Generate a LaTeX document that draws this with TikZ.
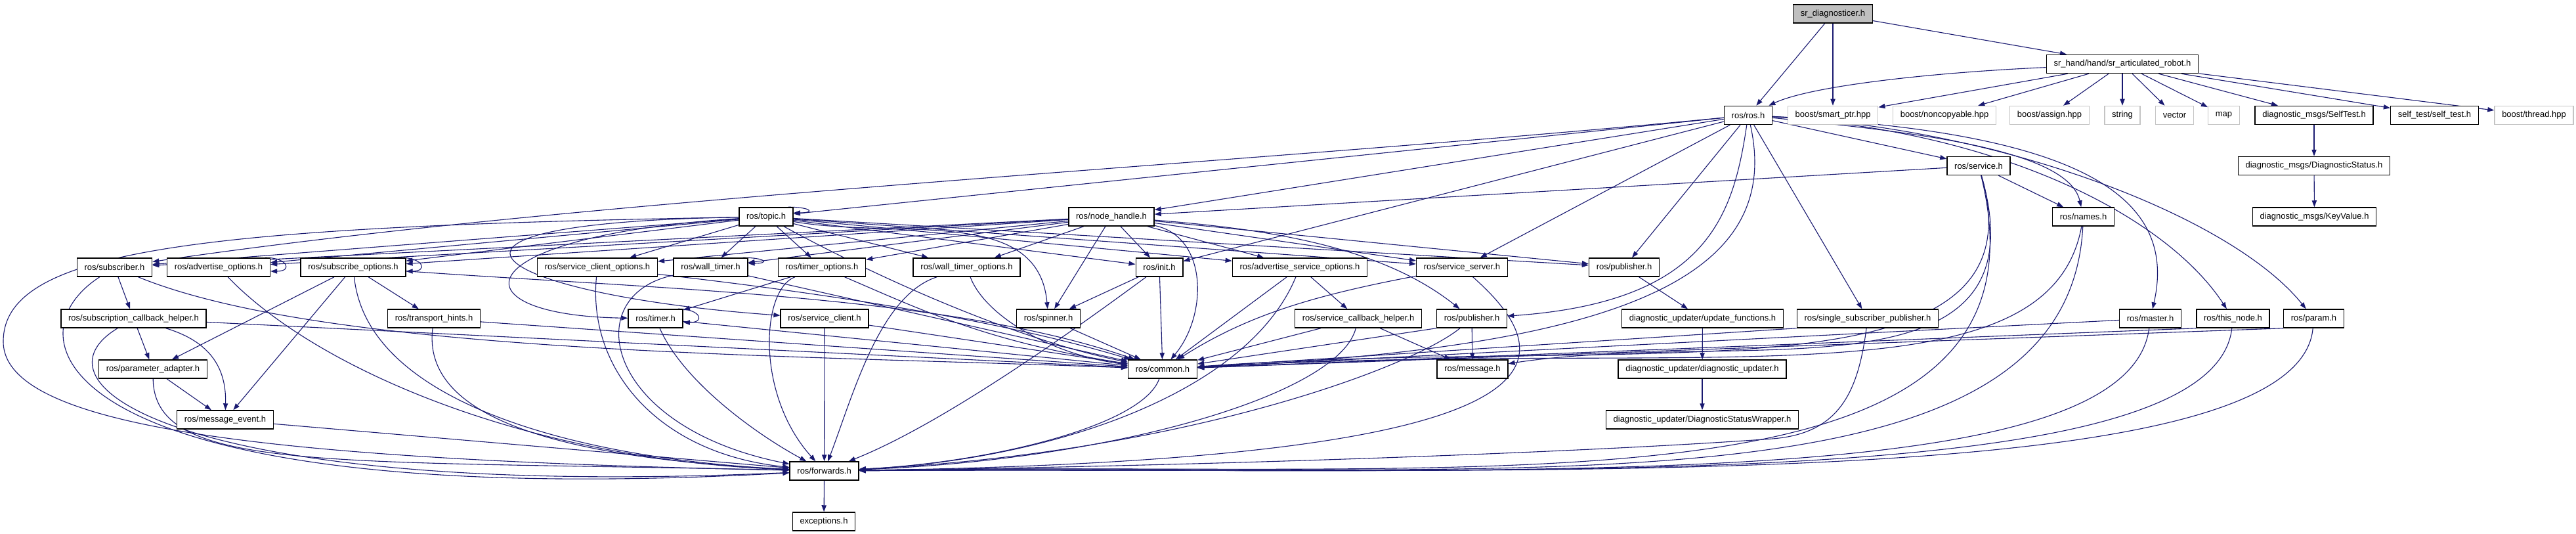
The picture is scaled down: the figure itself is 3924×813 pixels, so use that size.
\documentclass[tikz,border=0pt]{standalone}
\usepackage{fontspec}
\setmainfont{Liberation Sans}
\usetikzlibrary{arrows.meta,backgrounds}
\definecolor{EdgeClr}{HTML}{191970}
\definecolor{ExtClr}{HTML}{C4C4C4}
\definecolor{RootClr}{HTML}{BFBFBF}

\begin{document}
\begin{tikzpicture}[x=0.5pt,y=-0.5pt,
  hdr/.style={draw=black,fill=white,line width=0.75pt,minimum height=14pt,inner xsep=5.6pt,inner ysep=0pt,font=\fontsize{6.5}{7}\selectfont},
  exthdr/.style={hdr,draw=ExtClr},
  roothdr/.style={hdr,fill=RootClr},
  dep/.style={draw=EdgeClr,line width=0.55pt,-{Triangle[length=5pt,width=3.6pt]}}]
\useasboundingbox (0,0) rectangle (3924,813);

\node[roothdr] (diag) at (2792,21) {sr\_diagnosticer.h};
\node[hdr] (robot) at (3233,97.5) {sr\_hand/hand/sr\_articulated\_robot.h};

\node[hdr] (rosh) at (2663,175.5) {ros/ros.h};
\node[exthdr] (smartptr) at (2792,175.5) {boost/smart\_ptr.hpp};
\node[exthdr] (noncopy) at (2962,175.5) {boost/noncopyable.hpp};
\node[exthdr] (assign) at (3122,175.5) {boost/assign.hpp};
\node[exthdr] (string) at (3233,175.5) {string};
\node[exthdr] (vector) at (3312.5,175.5) {vector};
\node[exthdr] (map) at (3387.5,175.5) {map};
\node[hdr] (selftest) at (3525,175.5) {diagnostic\_msgs/SelfTest.h};
\node[hdr] (selftesth) at (3708.5,175.5) {self\_test/self\_test.h};
\node[exthdr] (thread) at (3860,175.5) {boost/thread.hpp};

\node[hdr] (service) at (3014,252.5) {ros/service.h};
\node[hdr] (dstatus) at (3525,252.5) {diagnostic\_msgs/DiagnosticStatus.h};

\node[hdr] (topic) at (1167,330) {ros/topic.h};
\node[hdr] (nh) at (1693,330) {ros/node\_handle.h};
\node[hdr] (names) at (3173.5,330) {ros/names.h};
\node[hdr] (keyval) at (3525.5,330) {diagnostic\_msgs/KeyValue.h};

\node[hdr] (sub) at (174.5,407) {ros/subscriber.h};
\node[hdr] (advopt) at (333,407) {ros/advertise\_options.h};
\node[hdr] (subopt) at (538,407) {ros/subscribe\_options.h};
\node[hdr] (scopt) at (910,407) {ros/service\_client\_options.h};
\node[hdr] (walltimer) at (1082.5,407) {ros/wall\_timer.h};
\node[hdr] (timeropt) at (1252,407) {ros/timer\_options.h};
\node[hdr] (wtopt) at (1472.5,407) {ros/wall\_timer\_options.h};
\node[hdr] (init) at (1766,407) {ros/init.h};
\node[hdr] (asopt) at (1980,407) {ros/advertise\_service\_options.h};
\node[hdr] (sserver) at (2227,407) {ros/service\_server.h};
\node[hdr] (pubA) at (2474,407) {ros/publisher.h};

\node[hdr] (sch) at (203.5,485) {ros/subscription\_callback\_helper.h};
\node[hdr] (thints) at (661,485) {ros/transport\_hints.h};
\node[hdr] (timer) at (998.6,485) {ros/timer.h};
\node[hdr] (sclient) at (1256,485) {ros/service\_client.h};
\node[hdr] (spinner) at (1597,485) {ros/spinner.h};
\node[hdr] (svcch) at (2069,485) {ros/service\_callback\_helper.h};
\node[hdr] (pubB) at (2242,485) {ros/publisher.h};
\node[hdr] (upfun) at (2593.5,485) {diagnostic\_updater/update\_functions.h};
\node[hdr] (ssp) at (2845,485) {ros/single\_subscriber\_publisher.h};
\node[hdr] (master) at (3275.6,485) {ros/master.h};
\node[hdr] (thisnode) at (3401.5,485) {ros/this\_node.h};
\node[hdr] (param) at (3524.5,485) {ros/param.h};

\node[hdr] (padapt) at (233,562) {ros/parameter\_adapter.h};
\node[hdr] (common) at (1771,562) {ros/common.h};
\node[hdr] (msg) at (2243,562) {ros/message.h};
\node[hdr] (dupd) at (2593,562) {diagnostic\_updater/diagnostic\_updater.h};

\node[hdr] (mevent) at (343,639) {ros/message\_event.h};
\node[hdr] (dsw) at (2593,639) {diagnostic\_updater/DiagnosticStatusWrapper.h};

\node[hdr] (fwd) at (1255.6,717) {ros/forwards.h};
\node[hdr] (exc) at (1255,794) {exceptions.h};

\begin{scope}[on background layer]
\draw[dep] (diag) -- (rosh);
\draw[dep] (diag) -- (smartptr);
\draw[dep] (diag) -- (robot);
\draw[dep] (robot) .. controls (2950,110) and (2760,130) .. (rosh);
\draw[dep] (robot) -- (smartptr);
\draw[dep] (robot) -- (noncopy);
\draw[dep] (robot) -- (assign);
\draw[dep] (robot) -- (string);
\draw[dep] (robot) -- (vector);
\draw[dep] (robot) -- (map);
\draw[dep] (robot) -- (selftest);
\draw[dep] (robot) -- (selftesth);
\draw[dep] (robot) -- (thread);
\draw[dep] (selftest) -- (dstatus);
\draw[dep] (dstatus) -- (keyval);

\draw[dep] (rosh) -- (topic);
\draw[dep] (rosh) -- (nh);
\draw[dep] (rosh) .. controls (1900,250) and (900,300) .. (sub);
\draw[dep] (rosh) -- (init);
\draw[dep] (rosh) -- (sserver);
\draw[dep] (rosh) -- (pubA);
\draw[dep] (rosh) .. controls (2640,330) and (2600,460) .. (pubB);
\draw[dep] (rosh) .. controls (2720,430) and (2450,530) .. (common);
\draw[dep] (rosh) -- (service);
\draw[dep] (rosh) -- (ssp);
\draw[dep] (rosh) .. controls (2900,200) and (3150,225) .. (names);
\draw[dep] (rosh) .. controls (3150,200) and (3320,290) .. (master);
\draw[dep] (rosh) .. controls (3050,200) and (3300,330) .. (thisnode);
\draw[dep] (rosh) .. controls (3050,195) and (3400,330) .. (param);

\draw[dep] (service) -- (nh);
\draw[dep] (service) -- (names);
\draw[dep] (service) .. controls (3120,620) and (2650,500) .. (msg);
\draw[dep] (service) .. controls (3120,620) and (2500,510) .. (common);
\draw[dep] (service) .. controls (3150,800) and (2300,700) .. (fwd);
\draw[dep] (names) .. controls (3120,620) and (2600,515) .. (common);
\draw[dep] (names) .. controls (3150,800) and (2300,700) .. (fwd);

\draw[dep] (master) -- (common);
\draw[dep] (master) .. controls (3240,760) and (2300,710) .. (fwd);
\draw[dep] (thisnode.south west) -- (common);
\draw[dep] (thisnode) .. controls (3370,760) and (2300,710) .. (fwd);
\draw[dep] (param.south west) -- (common);
\draw[dep] (param) .. controls (3500,760) and (2300,710) .. (fwd);
\draw[dep] (ssp.south west) -- (common);
\draw[dep] (ssp) .. controls (2830,600) and (2800,660) .. (2700,668) .. controls (2400,690) and (1800,710) .. (fwd);

\draw[dep] (pubA) -- (upfun);
\draw[dep] (upfun) -- (dupd);
\draw[dep] (dupd) -- (dsw);
\draw[dep] (pubB) -- (msg);
\draw[dep] (pubB.south west) -- (common);
\draw[dep] (pubB) .. controls (2150,560) and (1800,690) .. (fwd);
\draw[dep] (sserver) .. controls (2000,450) and (1900,480) .. (common);
\draw[dep] (sserver) .. controls (2400,560) and (2380,700) .. (fwd);
\draw[dep] (asopt) -- (svcch);
\draw[dep] (asopt) -- (common);
\draw[dep] (asopt) .. controls (1900,600) and (1600,700) .. (fwd);
\draw[dep] (svcch) -- (msg);
\draw[dep] (svcch) -- (common);
\draw[dep] (svcch) .. controls (2040,600) and (1700,700) .. (fwd);

\draw[dep] (init) -- (spinner);
\draw[dep] (init) -- (common);
\draw[dep] (init) .. controls (1680,470) and (1450,640) .. (fwd);
\draw[dep] (spinner) -- (common);
\draw[dep] (wtopt) .. controls (1500,480) and (1600,540) .. (common);
\draw[dep] (wtopt) .. controls (1340,450) and (1300,600) .. (fwd);
\draw[dep] (timeropt) -- (timer);
\draw[dep] (timeropt) .. controls (1400,470) and (1500,520) .. (common);
\draw[dep] (timeropt) .. controls (1160,440) and (1150,600) .. (fwd);
\draw[dep] (walltimer) -- (common);
\draw[dep] (walltimer) .. controls (880,450) and (920,650) .. (fwd);
\draw[dep] (scopt) .. controls (1200,440) and (1500,480) .. (common);
\draw[dep] (scopt) .. controls (895,560) and (1000,690) .. (fwd);
\draw[dep] (timer) -- (common);
\draw[dep] (timer) .. controls (1040,580) and (1150,660) .. (fwd);
\draw[dep] (sclient) -- (common);
\draw[dep] (sclient) -- (fwd);

\draw[dep] (sub) -- (sch);
\draw[dep] (sub) .. controls (500,540) and (1200,540) .. (common);
\draw[dep] (sub) .. controls (0,520) and (100,780) .. (fwd);
\draw[dep] (sch) -- (padapt);
\draw[dep] (sch) .. controls (320,520) and (345,560) .. (mevent);
\draw[dep] (sch) -- (common);
\draw[dep] (sch) .. controls (30,590) and (300,760) .. (fwd);
\draw[dep] (padapt) -- (mevent);
\draw[dep] (padapt) .. controls (235,720) and (500,700) .. (fwd);
\draw[dep] (mevent) -- (fwd);
\draw[dep] (subopt) -- (padapt);
\draw[dep] (subopt) -- (mevent);
\draw[dep] (subopt) -- (thints);
\draw[dep] (subopt) .. controls (1000,440) and (1450,450) .. (common);
\draw[dep] (subopt) .. controls (560,620) and (900,700) .. (fwd);
\draw[dep] (advopt) .. controls (480,560) and (800,700) .. (fwd);
\draw[dep] (thints) -- (common);
\draw[dep] (thints) .. controls (640,650) and (900,700) .. (fwd);
\draw[dep] (common) .. controls (1740,650) and (1500,705) .. (fwd);
\draw[dep] (fwd) -- (exc);

\draw[dep] (topic) -- (sub);
\draw[dep] (topic) -- (advopt);
\draw[dep] (topic) -- (subopt);
\draw[dep] (topic) -- (scopt);
\draw[dep] (topic) -- (walltimer);
\draw[dep] (topic) -- (timeropt);
\draw[dep] (topic) -- (wtopt);
\draw[dep] (topic) -- (init);
\draw[dep] (topic) -- (asopt);
\draw[dep] (topic) -- (sserver);
\draw[dep] (topic) -- (pubA);
\draw[dep] (topic) to[out=-10,in=95] (spinner);
\draw[dep] (topic) .. controls (700,360) and (690,480) .. (timer);
\draw[dep] (topic) .. controls (560,340) and (760,450) .. (sclient);
\draw[dep] (topic) .. controls (1350,430) and (1560,520) .. (common);
\draw[dep] (topic) .. controls (300,345) and (5,380) .. (5,520) .. controls (5,650) and (400,700) .. (fwd);

\draw[dep] (nh) -- (sub);
\draw[dep] (nh) -- (advopt);
\draw[dep] (nh) -- (subopt);
\draw[dep] (nh) -- (scopt);
\draw[dep] (nh) -- (walltimer);
\draw[dep] (nh) -- (timeropt);
\draw[dep] (nh) -- (wtopt);
\draw[dep] (nh) -- (init);
\draw[dep] (nh) -- (asopt);
\draw[dep] (nh) -- (sserver);
\draw[dep] (nh) -- (pubA);
\draw[dep] (nh) -- (spinner);
\draw[dep] (nh) .. controls (1950,350) and (2110,380) .. (pubB);
\draw[dep] (nh) .. controls (1840,360) and (1840,480) .. (common);

\draw[dep] ([xshift=-4pt]topic.north east) .. controls +(34,0) and +(34,0) .. ([yshift=3pt]topic.east);
\draw[dep] ([xshift=-4pt]advopt.north east) .. controls +(34,0) and +(34,0) .. ([yshift=-3pt]advopt.east);
\draw[dep] ([xshift=-4pt]subopt.north east) .. controls +(34,0) and +(34,0) .. ([yshift=-3pt]subopt.east);
\draw[dep] ([xshift=-4pt]walltimer.north east) .. controls +(34,0) and +(34,0) .. ([yshift=3pt]walltimer.east);
\draw[dep] ([xshift=-4pt]timer.north east) .. controls +(34,0) and +(34,0) .. ([yshift=-3pt]timer.east);
\end{scope}
\end{tikzpicture}
\end{document}
